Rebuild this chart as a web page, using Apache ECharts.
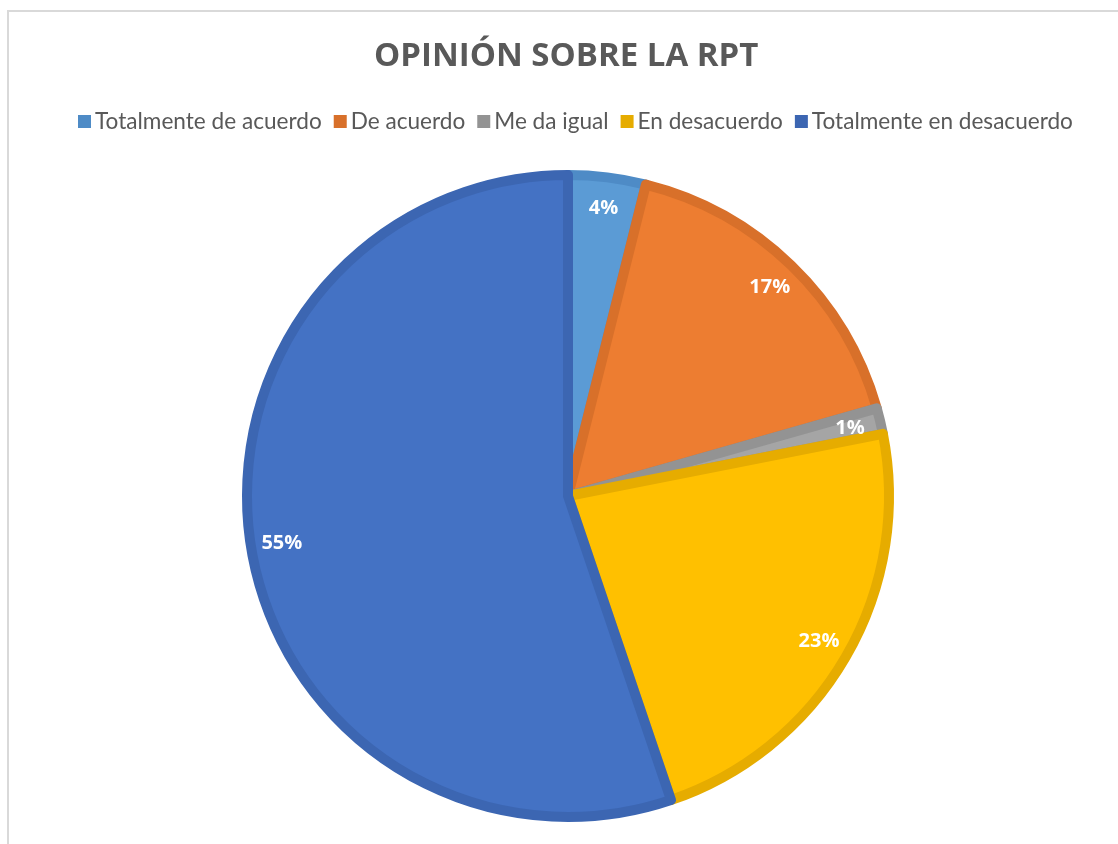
<!DOCTYPE html>
<html>
<head>
<meta charset="utf-8">
<script src="https://cdn.jsdelivr.net/npm/echarts@6/dist/echarts.min.js"></script>
<style>
html,body{margin:0;padding:0;background:#fff;}
#main{width:1118px;height:844px;}
</style>
</head>
<body>
<div id="main"></div>
<script>
const titleText = 'OPINIÓN SOBRE LA RPT';
const categories = ['Totalmente de acuerdo', 'De acuerdo', 'Me da igual', 'En desacuerdo', 'Totalmente en desacuerdo'];
const values = [3.9, 16.7, 1.3, 22.9, 55.2];
const fillColors = ['#5B9BD5', '#ED7D31', '#A5A5A5', '#FFC000', '#4472C4'];
const edgeColors = ['#4E8BC6', '#D8702A', '#939393', '#E6AC00', '#3C66B2'];

const chart = echarts.init(document.getElementById('main'), null, {renderer: 'canvas'});

const pieData = categories.map((name, i) => ({
  name: name,
  value: values[i],
  itemStyle: {color: fillColors[i], borderColor: edgeColors[i]}
}));
const labelData = categories.map((name, i) => ({name: name, value: values[i]}));

chart.setOption({
  animation: false,
  backgroundColor: '#ffffff',
  title: {
    text: titleText,
    left: 369,
    top: 35,
    textStyle: {fontFamily: 'Open Sans', fontWeight: 'bold', fontSize: 33, color: '#595959'}
  },
  legend: {
    data: categories.map((name, i) => ({name: name, itemStyle: {color: edgeColors[i], borderWidth: 0}})),
    left: 73,
    top: 105,
    icon: 'rect',
    itemWidth: 13,
    itemHeight: 13,
    itemGap: 12,
    selectedMode: false,
    textStyle: {fontFamily: 'Lato', fontSize: 22.6, color: '#595959', padding: [0, 0, 0, -1]}
  },
  graphic: [{
    type: 'rect',
    shape: {x: 8, y: 11, width: 1300, height: 1000},
    style: {fill: 'none', stroke: '#D9D9D9', lineWidth: 2},
    silent: true,
    z: -1
  }],
  series: [
    {
      type: 'pie',
      center: [568, 496],
      radius: 321,
      startAngle: 90,
      clockwise: true,
      legendHoverLink: false,
      itemStyle: {borderWidth: 10, borderJoin: 'round'},
      label: {show: false},
      labelLine: {show: false},
      emphasis: {disabled: true},
      data: pieData
    },
    {
      type: 'pie',
      center: [568, 496],
      radius: [248, 326],
      startAngle: 90,
      clockwise: true,
      silent: true,
      itemStyle: {color: 'rgba(0,0,0,0)', borderWidth: 0},
      label: {
        show: true,
        position: 'inside',
        formatter: p => Math.round(p.value) + '%',
        fontFamily: 'Open Sans',
        fontWeight: 'bold',
        fontSize: 20,
        color: '#ffffff'
      },
      labelLine: {show: false},
      emphasis: {disabled: true},
      data: labelData
    }
  ]
});
</script>
</body>
</html>
